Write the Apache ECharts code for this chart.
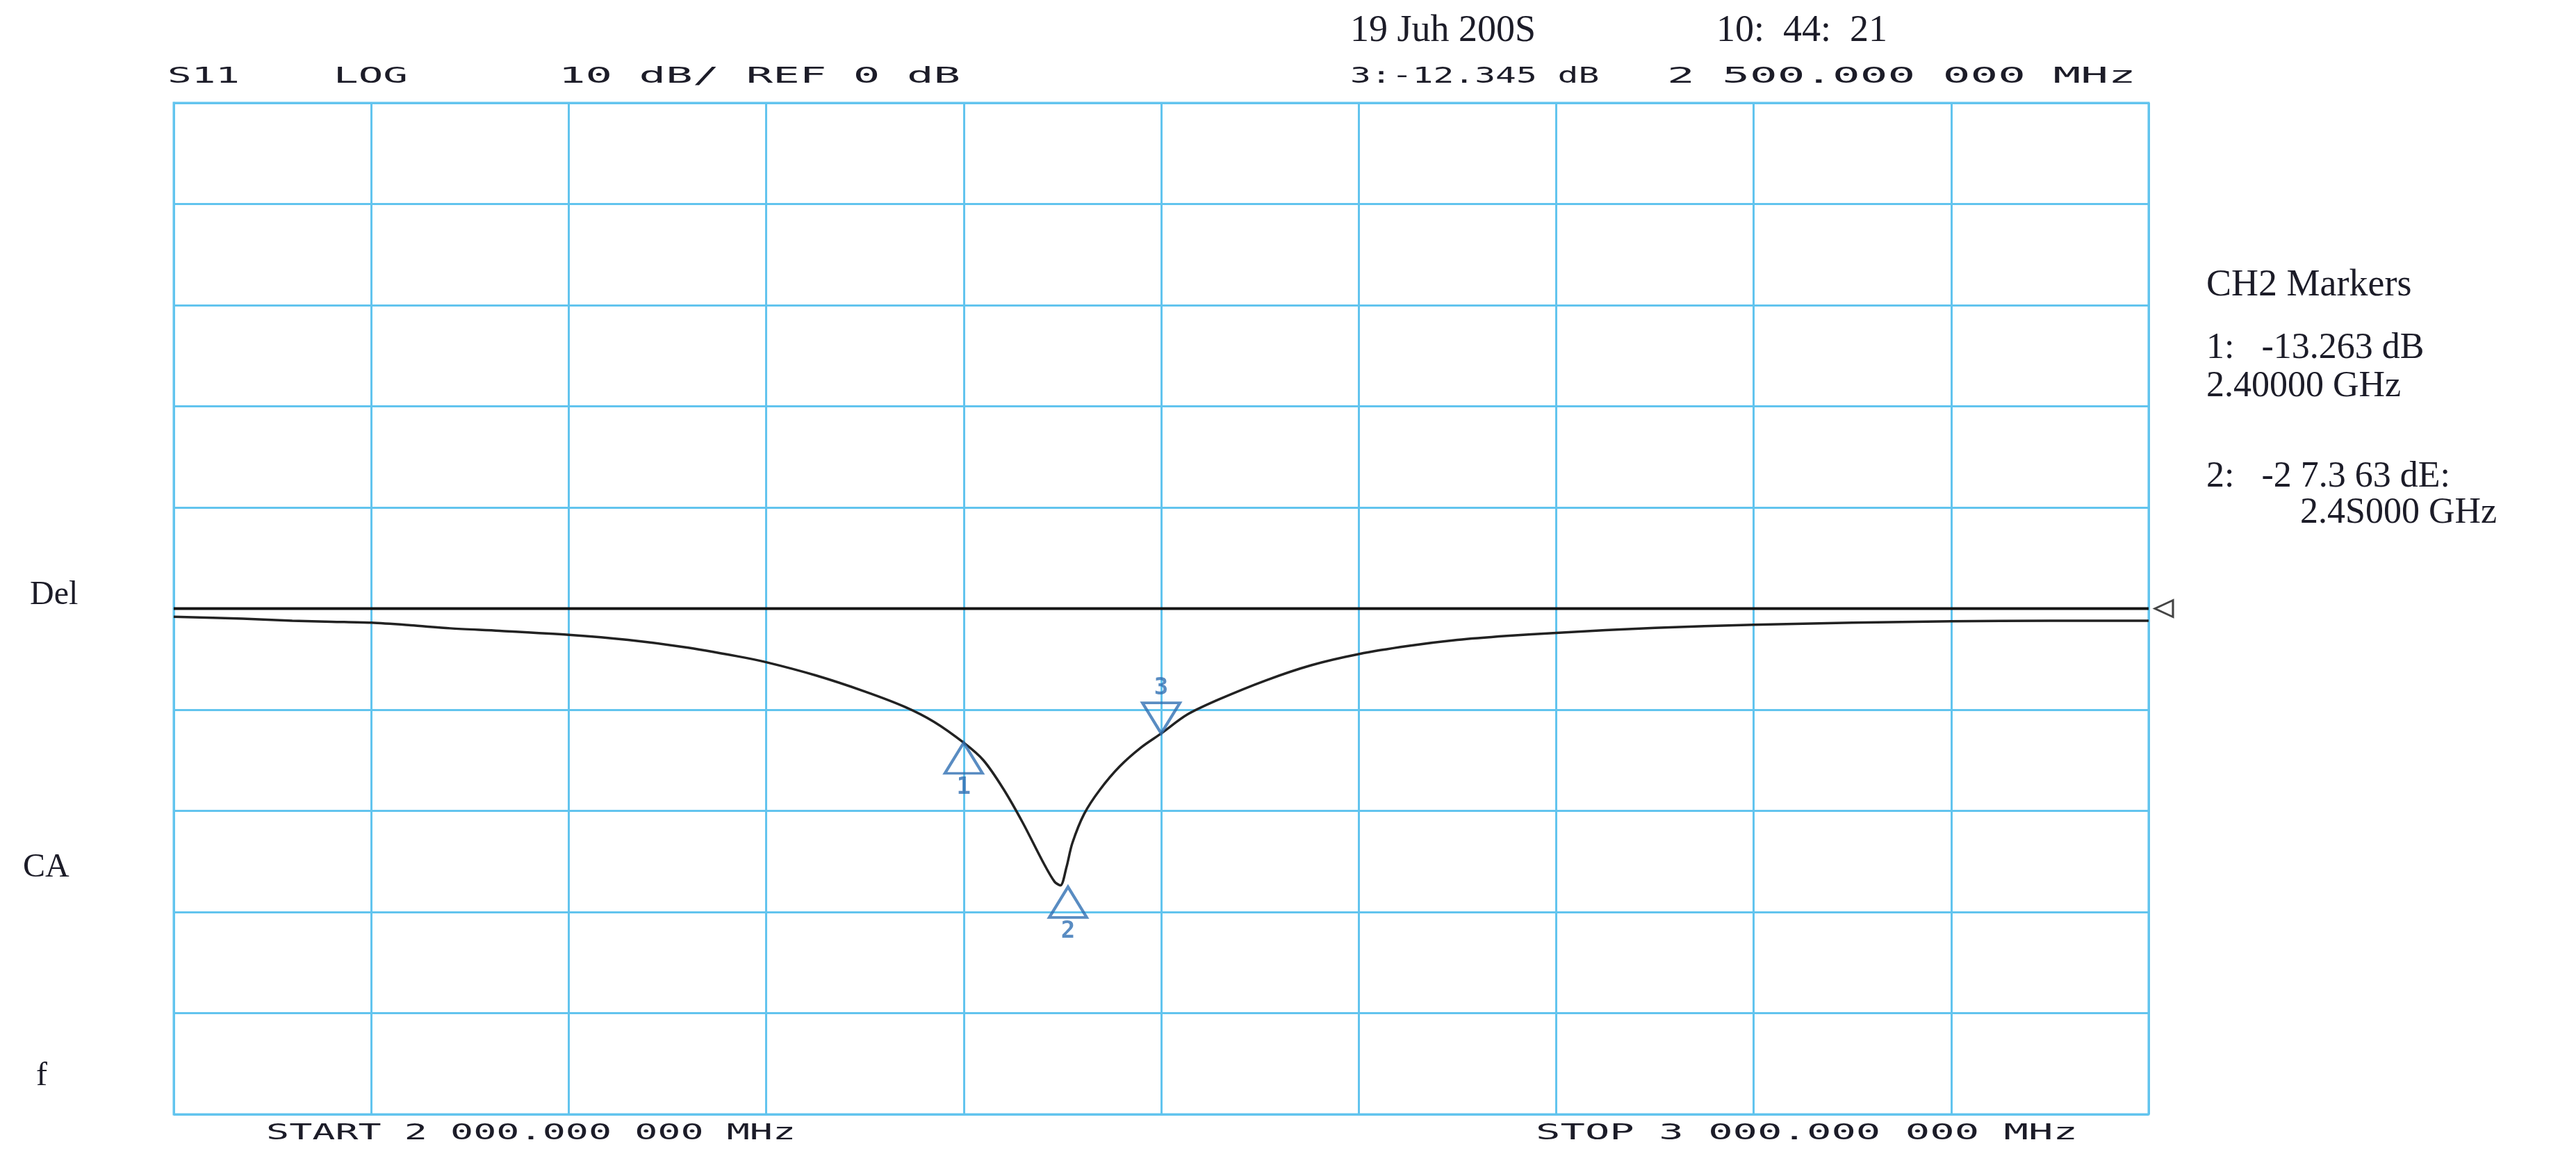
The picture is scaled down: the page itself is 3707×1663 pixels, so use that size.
<!DOCTYPE html>
<html>
<head>
<meta charset="utf-8">
<script src="https://cdn.jsdelivr.net/npm/echarts@6/dist/echarts.min.js"></script>
<style>
html,body{margin:0;padding:0;background:#fff;}
#chart{width:3707px;height:1663px;}
</style>
</head>
<body>
<div id="chart"></div>
<script>
// ---- data ----
const freqMHz = [2000, 2035, 2060, 2080, 2100, 2120, 2140, 2165, 2200, 2230, 2258, 2285, 2300, 2325, 2350, 2370, 2385, 2400, 2410, 2420, 2430, 2440, 2446, 2449, 2452, 2455, 2461, 2469, 2479, 2490, 2500, 2513, 2529, 2553, 2576, 2600, 2625, 2650, 2675, 2700, 2750, 2800, 2850, 2900, 2950, 3000];
const s11dB = [-0.8, -1.0, -1.2, -1.3, -1.4, -1.65, -1.95, -2.2, -2.6, -3.1, -3.8, -4.7, -5.3, -6.6, -8.2, -9.7, -11.2, -13.263, -15.0, -17.8, -21.2, -25.0, -27.0, -27.363, -25.6, -23.2, -20.3, -17.9, -15.6, -13.7, -12.345, -10.5, -9.0, -7.1, -5.6, -4.5, -3.7, -3.1, -2.7, -2.4, -1.9, -1.6, -1.4, -1.25, -1.2, -1.2];
const refFreq = [2000, 3000];
const refDb = [0, 0];
const markerFreq = [2400, 2450, 2500];
const markerDb = [-13.263, -27.363, -12.345];
const markerNames = ['1', '2', '3'];
const xMin = 2000, xMax = 3000, xStep = 100;
const yMin = -50, yMax = 50, yStep = 10;

const headerTexts = ['S11', 'LOG', '10 dB/ REF 0 dB', '3:-12.345 dB', '2 500.000 000 MHz'];
const dateTexts = ['19 Juh 200S', '10:  44:  21'];
const markerPanel = ['CH2 Markers', '1:   -13.263 dB', '2.40000 GHz', '2:   -2 7.3 63 dE:', '2.4S000 GHz'];
const sideLabels = ['Del', 'CA', 'f'];
const footerTexts = ['START 2 000.000 000 MHz', 'STOP 3 000.000 000 MHz'];

// ---- chart ----
const chart = echarts.init(document.getElementById('chart'));
const gridColor = '#62c4ee';
const mono = '32px "DejaVu Sans Mono"';
const serif = '"Liberation Serif"';
const ink = '#1c1c28';

function monoText(t, x, y, sx) {
  return {type: 'text', x: x, y: y, scaleX: sx || 1.8, style: {text: t, font: mono, fill: ink, textAlign: 'left', textVerticalAlign: 'middle'}};
}
function serifText(t, x, y, size) {
  return {type: 'text', x: x, y: y, style: {text: t, font: size + 'px ' + serif, fill: ink, textAlign: 'left', textVerticalAlign: 'middle'}};
}

const graphics = [
  monoText(headerTexts[0], 241, 111),
  monoText(headerTexts[1], 480, 111, 1.85),
  monoText(headerTexts[2], 804, 111, 2.0),
  monoText(headerTexts[3], 1943, 111, 1.55),
  monoText(headerTexts[4], 2399, 111, 2.06),
  serifText(dateTexts[0], 1943, 45, 54),
  serifText(dateTexts[1], 2470, 45, 54),
  serifText(markerPanel[0], 3175, 411, 54),
  serifText(markerPanel[1], 3175, 501, 52),
  serifText(markerPanel[2], 3175, 556, 52),
  serifText(markerPanel[3], 3175, 686, 52),
  serifText(markerPanel[4], 3310, 738, 52),
  serifText(sideLabels[0], 43, 856, 48),
  serifText(sideLabels[1], 33, 1248, 48),
  serifText(sideLabels[2], 52, 1548, 48),
  monoText(footerTexts[0], 383, 1631, 1.72),
  monoText(footerTexts[1], 2210, 1631, 1.84)
];

const option = {
  backgroundColor: '#ffffff',
  animation: false,
  grid: {left: 250, right: 615, top: 148, bottom: 60, show: true, borderColor: gridColor, borderWidth: 3},
  xAxis: {
    type: 'value', min: xMin, max: xMax, interval: xStep,
    axisLabel: {show: false}, axisTick: {show: false},
    axisLine: {show: true, lineStyle: {color: gridColor, width: 3}},
    splitLine: {show: true, lineStyle: {color: gridColor, width: 3}}
  },
  yAxis: {
    type: 'value', min: yMin, max: yMax, interval: yStep,
    axisLabel: {show: false}, axisTick: {show: false},
    axisLine: {show: true, lineStyle: {color: gridColor, width: 3}},
    splitLine: {show: true, lineStyle: {color: gridColor, width: 3}}
  },
  series: [
    {
      type: 'line', name: 'REF',
      data: refFreq.map((f, i) => [f, refDb[i]]),
      symbol: 'none', lineStyle: {color: '#151515', width: 4}, z: 3
    },
    {
      type: 'line', name: 'S11',
      data: freqMHz.map((f, i) => [f, s11dB[i]]),
      symbol: 'none', smooth: 0.3, lineStyle: {color: '#222222', width: 3.5}, z: 4
    },
    {
      type: 'scatter', name: 'markers',
      data: markerFreq.map((f, i) => ({
        value: [f, markerDb[i]],
        name: markerNames[i],
        symbolRotate: i === 2 ? 180 : 0,
        symbolOffset: i === 2 ? [0, '-50%'] : (i === 1 ? [8, '55%'] : [0, '50%']),
        label: {position: i === 2 ? 'top' : 'bottom', distance: 2}
      })),
      symbol: 'triangle', symbolSize: [54, 44],
      itemStyle: {color: 'rgba(255,255,255,0)', borderColor: '#2f6fb3', borderWidth: 4},
      label: {show: true, formatter: p => p.name, color: '#2f6fb3', fontFamily: 'DejaVu Sans Mono', fontSize: 34, fontWeight: 'bold'},
      z: 5
    },
    {
      type: 'scatter', name: 'end',
      data: [[refFreq[1], refDb[1]]],
      symbol: 'path://M0,5 L10,0 L10,10 Z', symbolSize: [26, 24], symbolOffset: [22, 0],
      itemStyle: {color: '#ffffff', borderColor: '#151515', borderWidth: 3},
      z: 5
    }
  ],
  graphic: graphics
};
chart.setOption(option);
</script>
</body>
</html>
